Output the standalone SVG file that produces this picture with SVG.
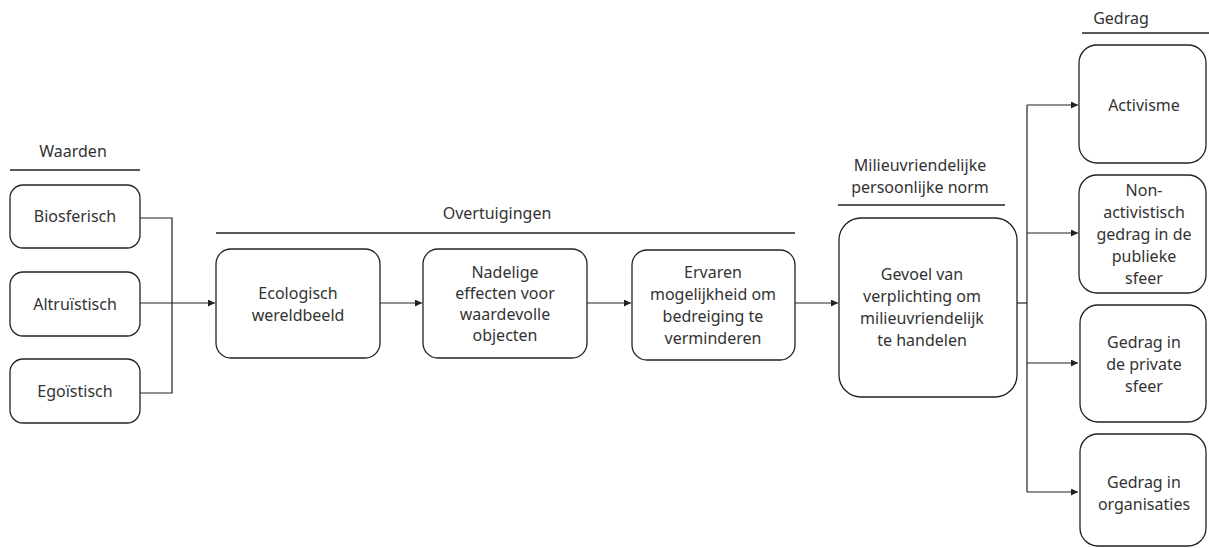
<svg xmlns="http://www.w3.org/2000/svg" width="1209" height="548" viewBox="0 0 1209 548">
<defs>
<style>
.box{fill:#fff;stroke:#222;stroke-width:1.3}
.t{font-family:"Noto Sans","Open Sans",sans-serif;font-size:16px;fill:#333;text-anchor:middle;dominant-baseline:central}
.rule{stroke:#222;stroke-width:1.5}
.c{fill:none;stroke:#222;stroke-width:1.2}
</style>
<marker id="a" viewBox="0 0 10 10" refX="10" refY="5" markerWidth="7" markerHeight="7" markerUnits="userSpaceOnUse" orient="auto"><path d="M0,0 L10,5 L0,10 z" fill="#222"/></marker>
</defs>
<rect width="1209" height="548" fill="#fff"/>
<g id="headers">
<text class="t" x="73" y="151">Waarden</text>
<line class="rule" x1="10" y1="170" x2="140" y2="170"/>
<text class="t" x="497" y="213">Overtuigingen</text>
<line class="rule" x1="216" y1="233" x2="795" y2="233"/>
<text class="t" x="920" y="165">Milieuvriendelijke</text>
<text class="t" x="920" y="187">persoonlijke norm</text>
<line class="rule" x1="838" y1="205" x2="1005" y2="205"/>
<text class="t" x="1121" y="18">Gedrag</text>
<line class="rule" x1="1082" y1="33" x2="1209" y2="33"/>
</g>
<g id="connectors">
<polyline class="c" points="140,218 172,218 172,393 140,393"/>
<line class="c" x1="140" y1="303" x2="215" y2="303" marker-end="url(#a)"/>
<line class="c" x1="380" y1="303" x2="422" y2="303" marker-end="url(#a)"/>
<line class="c" x1="587" y1="303" x2="631" y2="303" marker-end="url(#a)"/>
<line class="c" x1="795" y1="303" x2="838" y2="303" marker-end="url(#a)"/>
<line class="c" x1="1017" y1="303" x2="1027" y2="303"/>
<line class="c" x1="1027" y1="105" x2="1027" y2="492"/>
<line class="c" x1="1027" y1="105" x2="1078" y2="105" marker-end="url(#a)"/>
<line class="c" x1="1027" y1="233" x2="1078" y2="233" marker-end="url(#a)"/>
<line class="c" x1="1027" y1="363" x2="1078" y2="363" marker-end="url(#a)"/>
<line class="c" x1="1027" y1="492" x2="1078" y2="492" marker-end="url(#a)"/>
</g>
<g id="biosferisch"><rect class="box" x="10" y="185" width="130" height="63" rx="13"/><text class="t" x="75" y="216">Biosferisch</text></g>
<g id="altruistisch"><rect class="box" x="10" y="272" width="130" height="64" rx="13"/><text class="t" x="75" y="304">Altruïstisch</text></g>
<g id="egoistisch"><rect class="box" x="10" y="359" width="130" height="64" rx="13"/><text class="t" x="75" y="391">Egoïstisch</text></g>
<g id="ecologisch"><rect class="box" x="216" y="249" width="164" height="109" rx="15"/><text class="t" x="298" y="293">Ecologisch</text><text class="t" x="298" y="315">wereldbeeld</text></g>
<g id="nadelige"><rect class="box" x="423" y="249" width="164" height="109" rx="15"/><text class="t" x="505" y="272">Nadelige</text><text class="t" x="505" y="293">effecten voor</text><text class="t" x="505" y="314">waardevolle</text><text class="t" x="505" y="335">objecten</text></g>
<g id="ervaren"><rect class="box" x="632" y="250" width="163" height="110" rx="15"/><text class="t" x="713" y="272">Ervaren</text><text class="t" x="713" y="294">mogelijkheid om</text><text class="t" x="713" y="316">bedreiging te</text><text class="t" x="713" y="338">verminderen</text></g>
<g id="gevoel"><rect class="box" x="839" y="218" width="178" height="179" rx="22"/><text class="t" x="922" y="274">Gevoel van</text><text class="t" x="922" y="296">verplichting om</text><text class="t" x="922" y="318">milieuvriendelijk</text><text class="t" x="922" y="340">te handelen</text></g>
<g id="activisme"><rect class="box" x="1079" y="45" width="127" height="118" rx="18"/><text class="t" x="1144" y="105">Activisme</text></g>
<g id="nonactivistisch"><rect class="box" x="1079" y="175" width="127" height="118" rx="18"/><text class="t" x="1144" y="190">Non-</text><text class="t" x="1144" y="212">activistisch</text><text class="t" x="1144" y="234">gedrag in de</text><text class="t" x="1144" y="256">publieke</text><text class="t" x="1144" y="278">sfeer</text></g>
<g id="privaat"><rect class="box" x="1080" y="305" width="126" height="117" rx="18"/><text class="t" x="1144" y="342">Gedrag in</text><text class="t" x="1144" y="364">de private</text><text class="t" x="1144" y="386">sfeer</text></g>
<g id="organisaties"><rect class="box" x="1080" y="434" width="126" height="112" rx="18"/><text class="t" x="1144" y="482">Gedrag in</text><text class="t" x="1144" y="504">organisaties</text></g>
</svg>
